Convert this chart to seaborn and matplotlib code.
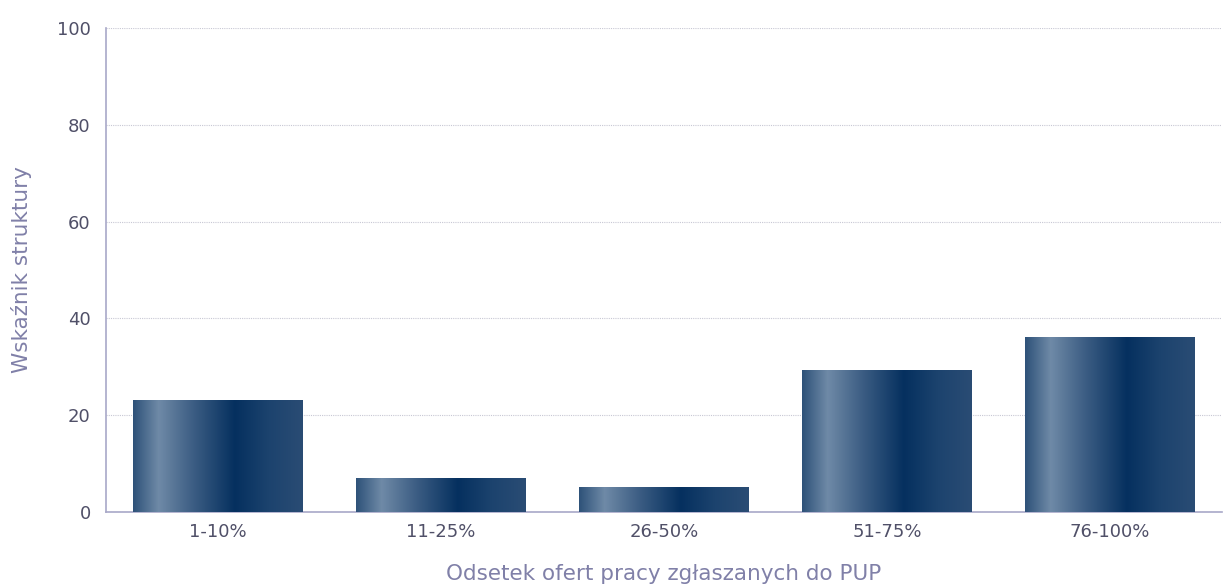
import numpy as np
import pandas as pd
import matplotlib
matplotlib.use("Agg")
import matplotlib.pyplot as plt
from matplotlib.colors import LinearSegmentedColormap
import seaborn as sns

categories = ["1-10%", "11-25%", "26-50%", "51-75%", "76-100%"]
values = [23.2, 7.1, 5.2, 29.3, 36.1]
y_ticks = [0, 20, 40, 60, 80, 100]

x_label = "Odsetek ofert pracy zgłaszanych do PUP"
y_label = "Wskaźnik struktury"

df = pd.DataFrame({"kategoria": categories, "wartosc": values})

sns.set_style("white")
plt.rcParams["font.family"] = ["DejaVu Sans"]

fig = plt.figure(figsize=(12.24, 5.86), dpi=100)
ax = fig.add_axes([0.0866, 0.1263, 0.9114, 0.8257])

sns.barplot(data=df, x="kategoria", y="wartosc", ax=ax, width=0.76,
            color="#0a3366", edgecolor="none", zorder=2)

# gradient poziomy na słupkach
grad = LinearSegmentedColormap.from_list("bar_grad", [
    (0.0, "#2e5279"),
    (0.15, "#6f8aa7"),
    (0.35, "#3d5e84"),
    (0.6, "#05305f"),
    (0.8, "#1c436e"),
    (1.0, "#2a4c74"),
])
row = np.linspace(0, 1, 256).reshape(1, -1)
for p in ax.patches:
    x0, y0 = p.get_x(), p.get_y()
    w, h = p.get_width(), p.get_height()
    im = ax.imshow(row, cmap=grad, aspect="auto", extent=[x0, x0 + w, y0, y0 + h],
                   zorder=3, interpolation="bilinear")
    im.set_clip_path(p)

ax.set_xlim(-0.5, len(categories) - 0.5)
ax.set_ylim(0, 100)
ax.set_yticks(y_ticks)
ax.yaxis.grid(True, linestyle=(0, (1, 1)), color="#c8c8d4", linewidth=0.8, zorder=0)
ax.set_axisbelow(True)

for side in ["top", "right"]:
    ax.spines[side].set_visible(False)
for side in ["left", "bottom"]:
    ax.spines[side].set_color("#a8a8c8")
    ax.spines[side].set_linewidth(1.2)

ax.tick_params(axis="both", length=0, labelsize=13, colors="#505068")
ax.tick_params(axis="y", pad=11)
ax.tick_params(axis="x", pad=8)

ax.set_xlabel(x_label, fontsize=15.5, color="#8080a8", va="center")
ax.set_ylabel(y_label, fontsize=15.5, color="#8080a8", va="center")
ax.xaxis.set_label_coords(0.5, -0.128)
ax.yaxis.set_label_coords(-0.0755, 0.5)

fig.savefig("out.png", dpi=100)
